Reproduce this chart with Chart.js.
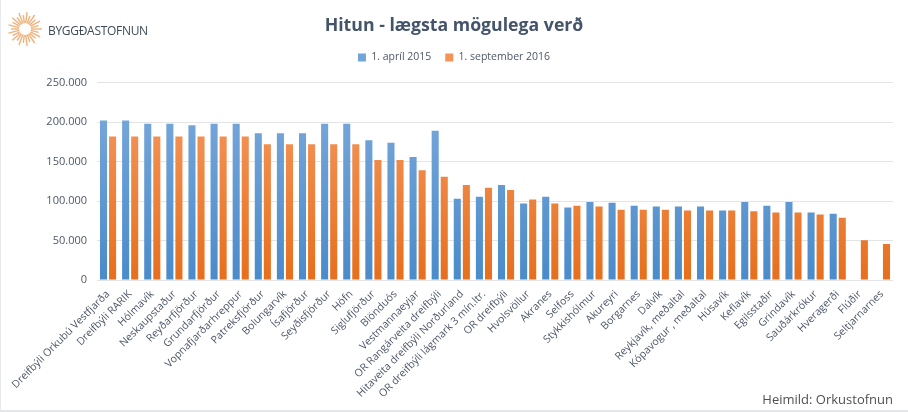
<!DOCTYPE html>
<html lang="is">
<head>
<meta charset="utf-8">
<title>Hitun - lægsta mögulega verð</title>
<script src="https://cdn.jsdelivr.net/npm/chart.js@4/dist/chart.umd.min.js"></script>
<style>
    html, body { margin: 0; padding: 0; background: #fff; }
    #frame { position: relative; width: 908px; height: 412px; overflow: hidden; background: #fff; }
    #frame canvas { position: absolute; left: 0; top: 0; }
    #edge { position: absolute; left: 0; top: 0; width: 907px; height: 410px; border-left: 1px solid #e8eaee; border-bottom: 2px solid #e4e6ea; pointer-events: none; }
    #logo { position: absolute; left: 8px; top: 12px; }
    #logoText { position: absolute; left: 48px; top: 22px; font: 12px "Open Sans", sans-serif; color: #3f4a5a; letter-spacing: -0.3px; }
    #source { position: absolute; right: 15px; top: 390px; font: 13px "Open Sans", sans-serif; color: #505050; }
</style>
</head>
<body>
<div id="frame">
    <canvas id="heatChart" width="908" height="412"></canvas>
    <svg id="logo" width="36" height="36" viewBox="0 0 36 36"></svg>
    <div id="logoText">BYGGÐASTOFNUN</div>
    <div id="source">Heimild: Orkustofnun</div>
    <div id="edge"></div>
</div>
<script>
const categories = [
    'Dreifbýli Orkubú Vestfjarða', 'Dreifbýli RARIK', 'Hólmavík', 'Neskaupstaður', 'Reyðarfjörður', 'Grundarfjörður',
    'Vopnafjarðarhreppur', 'Patreksfjörður', 'Bolungarvík', 'Ísafjörður', 'Seyðisfjörður', 'Höfn',
    'Siglufjörður', 'Blönduós', 'Vestmannaeyjar', 'OR Rangárveita dreifbýli', 'Hitaveita dreifbýli Norðurland', 'OR dreifbýli lágmark 3 mín.ltr.',
    'OR dreifbýli', 'Hvolsvöllur', 'Akranes', 'Selfoss', 'Stykkishólmur', 'Akureyri',
    'Borgarnes', 'Dalvík', 'Reykjavík, meðaltal', 'Kópavogur , meðaltal', 'Húsavík', 'Keflavík',
    'Egilsstaðir', 'Grindavík', 'Sauðárkrókur', 'Hveragerði', 'Flúðir', 'Seltjarnarnes'
];

const april2015 = [
    202000, 202000, 198000, 198000, 196000, 198000,
    198000, 186000, 186000, 186000, 198000, 198000,
    177000, 174000, 156000, 189000, 103000, 105500,
    120500, 97000, 105500, 92000, 99000, 98000,
    94000, 93000, 93000, 93000, 88000, 99000,
    94000, 99000, 85500, 84000, null, null
];

const september2016 = [
    182000, 182000, 182000, 182000, 182000, 182000,
    182000, 172000, 172000, 172000, 172000, 172000,
    152000, 152000, 139000, 131000, 120500, 117000,
    114000, 102000, 97000, 94000, 93000, 89000,
    89000, 89000, 88000, 88000, 88000, 87000,
    85500, 85500, 83000, 79000, 50500, 45500
];

const yTicks = [0, 50000, 100000, 150000, 200000, 250000];

const textColor = '#4d5768';
const gridColor = '#e2e4e8';

// Excel style fill, lighter towards the top of the plot
function barFill(top, bottom, solid) {
    return function (context) {
        const area = context.chart.chartArea;
        if (!area) return solid;
        const gradient = context.chart.ctx.createLinearGradient(0, 120, 0, area.bottom);
        gradient.addColorStop(0, top);
        gradient.addColorStop(1, bottom);
        return gradient;
    };
}

function formatThousands(value) {
    return String(value).replace(/\B(?=(\d{3})+$)/g, '.');
}

// Sunburst logo
const logo = document.getElementById('logo');
let rays = '';
for (let i = 0; i < 26; i++) {
    const angle = i / 26 * Math.PI * 2;
    const outer = i % 2 ? 14 : 17;
    rays += `<line x1="${17 + Math.cos(angle) * 6}" y1="${17 + Math.sin(angle) * 6}" x2="${17 + Math.cos(angle) * outer}" y2="${17 + Math.sin(angle) * outer}" stroke="#efb27c" stroke-width="1.4"/>`;
}
logo.innerHTML = rays;

// Leaves room between the legend and the plot without moving the legend text
const legendGap = {
    id: 'legendGap',
    beforeInit(chart) {
        const fit = chart.legend.fit;
        chart.legend.fit = function () {
            fit.call(this);
            this.height += 10;
        };
    }
};

new Chart(document.getElementById('heatChart').getContext('2d'), {
    type: 'bar',
    plugins: [legendGap],
    data: {
        labels: categories,
        datasets: [{
            label: '1. apríl 2015',
            data: april2015,
            backgroundColor: barFill('#74a5d9', '#4a8bca', '#5b9bd5')
        }, {
            label: '1. september 2016',
            data: september2016,
            backgroundColor: barFill('#f39358', '#e76f1c', '#ed7d31')
        }]
    },
    options: {
        responsive: false,
        animation: false,
        devicePixelRatio: 1,
        datasets: {
            bar: { categoryPercentage: 0.82, barPercentage: 0.78 }
        },
        layout: {
            padding: { left: 15, right: 15, top: 15, bottom: 0 }
        },
        plugins: {
            title: {
                display: true,
                text: 'Hitun - lægsta mögulega verð',
                color: '#44546a',
                font: { family: 'Open Sans', size: 17.7, weight: 'bold' },
                padding: { top: 0, bottom: 2 }
            },
            legend: {
                position: 'top',
                labels: {
                    color: textColor,
                    font: { family: 'Open Sans', size: 10.5 },
                    boxWidth: 8,
                    boxHeight: 8,
                    padding: 14
                }
            },
            tooltip: { enabled: false }
        },
        scales: {
            x: {
                afterFit: scale => { scale.height = 132; },
                border: { display: false },
                grid: { display: false },
                ticks: {
                    color: textColor,
                    font: { family: 'Open Sans', size: 10.5 },
                    autoSkip: false,
                    minRotation: 45,
                    maxRotation: 45,
                    padding: 0
                }
            },
            y: {
                min: 0,
                max: 250000,
                afterFit: scale => { scale.width = 82; },
                afterBuildTicks: scale => { scale.ticks = yTicks.map(value => ({ value })); },
                border: { display: false },
                grid: { color: gridColor, drawTicks: false },
                ticks: {
                    color: textColor,
                    font: { family: 'Open Sans', size: 11 },
                    padding: 10,
                    callback: value => formatThousands(value)
                }
            }
        }
    }
});
</script>
</body>
</html>
